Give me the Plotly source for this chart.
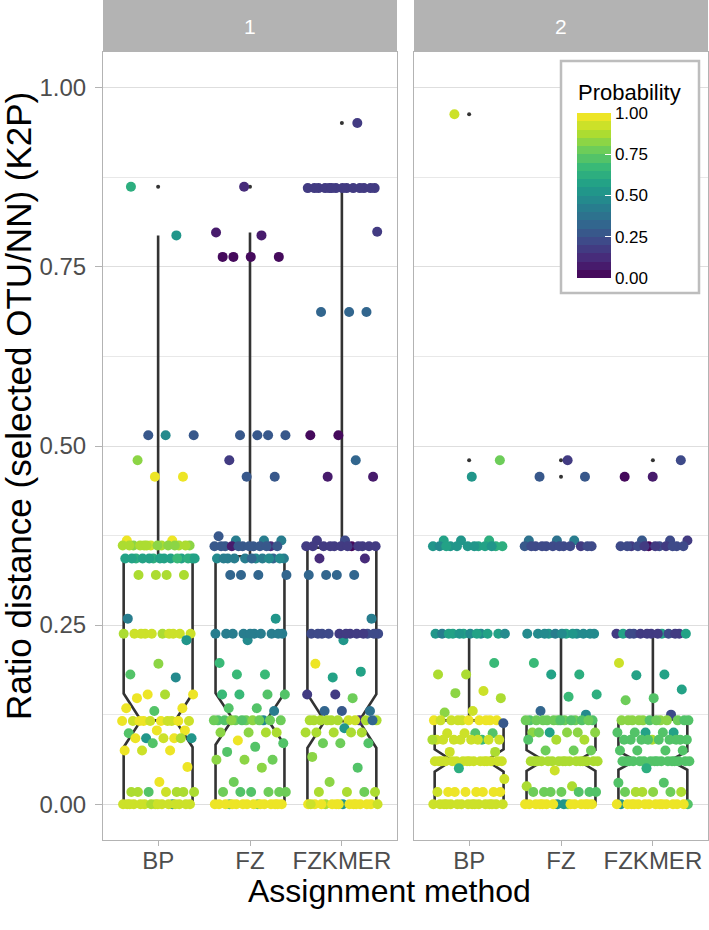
import plotly.graph_objects as go
from plotly.colors import sample_colorscale

methods = ["BP", "FZ", "FZKMER"]
method_pos = [1, 2, 3]
facet_labels = ["1", "2"]

# ---- boxplot summaries (order: BP, FZ, FZKMER) ----
f1_q1 = [0.0, 0.0, 0.0]
f1_median = [0.117, 0.119, 0.116]
f1_q3 = [0.342, 0.346, 0.358]
f1_upper = [0.794, 0.798, 0.860]
f1_notch = [0.0375, 0.036, 0.0375]
f1_outliers = [[0.862], [0.862], [0.951]]

f2_q1 = [0.0, 0.0, 0.0]
f2_median = [0.061, 0.061, 0.061]
f2_q3 = [0.117, 0.118, 0.118]
f2_upper = [0.238, 0.238, 0.238]
f2_notch = [0.0155, 0.0145, 0.013]
f2_outliers = [[0.963, 0.480, 0.457, 0.360], [0.480, 0.457, 0.360], [0.480, 0.457, 0.360]]

# ---- observations: ratio distance (y) and probability (p) ----
bp1_y = [0.862, 0.794, 0.515, 0.515, 0.515, 0.480, 0.457, 0.457,
         0.368, 0.368,
         0.361, 0.361, 0.361, 0.361, 0.361, 0.361, 0.361, 0.361, 0.361, 0.361, 0.361, 0.361, 0.361, 0.361,
         0.343, 0.343, 0.343, 0.343, 0.343, 0.343, 0.343, 0.343, 0.343, 0.343, 0.343, 0.343, 0.343, 0.343,
         0.320, 0.320, 0.320, 0.320,
         0.259,
         0.238, 0.238, 0.238, 0.238, 0.238, 0.238, 0.238, 0.238, 0.238, 0.238,
         0.229, 0.196, 0.181, 0.177,
         0.153, 0.153, 0.153, 0.148,
         0.134, 0.130, 0.134,
         0.116, 0.116, 0.116, 0.116, 0.116, 0.116, 0.116, 0.116, 0.116, 0.116,
         0.103, 0.103,
         0.099, 0.092, 0.092, 0.092, 0.092, 0.092, 0.092, 0.085,
         0.075, 0.075, 0.075,
         0.052, 0.031,
         0.017, 0.017, 0.017, 0.017, 0.017, 0.017, 0.017,
         0.0, 0.0, 0.0, 0.0, 0.0, 0.0, 0.0, 0.0, 0.0, 0.0, 0.0, 0.0, 0.0, 0.0, 0.0, 0.0]
bp1_p = [0.62, 0.52, 0.28, 0.28, 0.45, 0.82, 0.97, 0.97,
         1.0, 1.0,
         0.86, 0.84, 0.88, 0.82, 0.86, 0.90, 0.85, 0.80, 0.86, 0.88, 0.84, 0.86, 0.82, 0.87,
         0.58, 0.56, 0.60, 0.57, 0.62, 0.55, 0.58, 0.57, 0.60, 0.56, 0.58, 0.65, 0.57, 0.59,
         0.86, 0.88, 0.85, 0.87,
         0.42,
         0.90, 0.92, 0.90, 0.88, 0.90, 0.91, 0.90, 0.89, 0.92, 0.90,
         0.50, 0.82, 0.70, 0.46,
         0.97, 0.95, 0.85, 0.95,
         0.97, 0.70, 0.97,
         0.93, 0.97, 0.92, 0.95, 0.90, 0.97, 0.93, 0.95, 0.92, 0.96,
         0.97, 0.97,
         0.70, 0.97, 0.50, 0.50, 0.92, 0.97, 0.88, 0.70,
         0.97, 0.97, 0.90,
         0.97, 0.97,
         0.88, 0.88, 0.72, 0.88, 0.90, 0.86, 0.88,
         0.90, 0.92, 0.50, 0.90, 0.91, 0.90, 0.93, 0.90, 0.89, 0.92, 0.90, 0.91, 0.90, 0.92, 0.90, 0.91]

fz1_y = [0.862, 0.798, 0.794, 0.764, 0.764, 0.764, 0.764,
         0.515, 0.515, 0.515, 0.515, 0.480, 0.457, 0.457, 0.374,
         0.368, 0.368, 0.368,
         0.360, 0.360, 0.360, 0.360, 0.360, 0.360, 0.360, 0.360, 0.360, 0.360, 0.360, 0.360,
         0.343, 0.343, 0.343, 0.343, 0.343, 0.343, 0.343, 0.343, 0.343, 0.343, 0.343, 0.343,
         0.320, 0.320, 0.320, 0.320,
         0.259, 0.229, 0.197, 0.181, 0.181,
         0.238, 0.238, 0.238, 0.238, 0.238, 0.238, 0.238, 0.238, 0.238, 0.238,
         0.153, 0.153, 0.153, 0.153,
         0.134, 0.134, 0.130,
         0.117, 0.117, 0.117, 0.117, 0.117, 0.117, 0.117, 0.117, 0.117, 0.117, 0.117, 0.117,
         0.100, 0.100, 0.100, 0.100,
         0.089, 0.085, 0.080, 0.073, 0.062, 0.062, 0.062, 0.051, 0.031,
         0.017, 0.017, 0.017, 0.017, 0.017, 0.017,
         0.0, 0.0, 0.0, 0.0, 0.0, 0.0, 0.0, 0.0, 0.0, 0.0, 0.0, 0.0, 0.0, 0.0, 0.0, 0.0]
fz1_p = [0.12, 0.05, 0.05, 0.02, 0.02, 0.02, 0.02,
         0.28, 0.27, 0.28, 0.28, 0.15, 0.27, 0.27, 0.27,
         0.40, 0.42, 0.40,
         0.27, 0.25, 0.10, 0.27, 0.28, 0.26, 0.08, 0.27, 0.25, 0.28, 0.27, 0.26,
         0.44, 0.45, 0.43, 0.30, 0.44, 0.45, 0.44, 0.43, 0.45, 0.30, 0.44, 0.45,
         0.30, 0.30, 0.30, 0.30,
         0.52, 0.45, 0.68, 0.68, 0.68,
         0.42, 0.40, 0.44, 0.42, 0.41, 0.43, 0.42, 0.40, 0.42, 0.44,
         0.68, 0.70, 0.68, 0.72,
         0.70, 0.70, 0.40,
         0.75, 0.72, 0.45, 0.78, 0.75, 0.80, 0.74, 0.76, 0.72, 0.78, 0.75, 0.80,
         0.85, 0.82, 0.80, 0.85,
         0.95, 0.72, 0.70, 0.72, 0.75, 0.80, 0.80, 0.82, 0.75,
         0.75, 0.74, 0.76, 0.75, 0.73, 0.75,
         0.75, 0.72, 1.0, 0.98, 1.0, 1.0, 0.97, 1.0, 1.0, 0.98, 1.0, 1.0, 0.97, 1.0, 1.0, 1.0]

fk1_y = [0.951,
         0.860, 0.860, 0.860, 0.860, 0.860, 0.860, 0.860, 0.860, 0.860, 0.860, 0.860, 0.860, 0.860, 0.860,
         0.799, 0.687, 0.687, 0.687, 0.515, 0.515, 0.480, 0.457, 0.457,
         0.368, 0.368,
         0.360, 0.360, 0.360, 0.360, 0.360, 0.360, 0.360, 0.360, 0.360, 0.360, 0.360, 0.360,
         0.343, 0.343,
         0.320, 0.320, 0.320, 0.320,
         0.259, 0.229, 0.196, 0.185, 0.177,
         0.238, 0.238, 0.238, 0.238, 0.238, 0.238, 0.238, 0.238, 0.238, 0.238, 0.238, 0.238,
         0.153, 0.153, 0.148, 0.130, 0.130, 0.130,
         0.117, 0.117, 0.117, 0.117, 0.117, 0.117, 0.117, 0.117, 0.117, 0.117, 0.117, 0.117,
         0.106, 0.100, 0.100, 0.100, 0.100, 0.100,
         0.085, 0.085, 0.085, 0.066, 0.051, 0.031,
         0.017, 0.017, 0.017, 0.017,
         0.0, 0.0, 0.0, 0.0, 0.0, 0.0, 0.0, 0.0, 0.0, 0.0, 0.0, 0.0, 0.0, 0.0, 0.0, 0.0]
fk1_p = [0.15,
         0.17, 0.16, 0.18, 0.17, 0.15, 0.17, 0.19, 0.17, 0.16, 0.18, 0.17, 0.15, 0.17, 0.18,
         0.15, 0.30, 0.30, 0.30, 0.04, 0.04, 0.30, 0.05, 0.05,
         0.20, 0.18,
         0.17, 0.18, 0.16, 0.03, 0.17, 0.18, 0.17, 0.16, 0.18, 0.17, 0.18, 0.16,
         0.10, 0.10,
         0.30, 0.30, 0.30, 0.30,
         0.42, 0.52, 0.95, 0.58, 0.55,
         0.20, 0.18, 0.20, 0.21, 0.19, 0.20, 0.18, 0.20, 0.21, 0.19, 0.20, 0.18,
         0.15, 0.15, 0.75, 0.30, 0.35, 0.25,
         0.88, 0.10, 0.86, 0.88, 0.90, 0.87, 0.85, 0.88, 0.86, 0.90, 0.88, 0.30,
         0.50, 0.85, 0.88, 0.85, 0.87, 0.86,
         0.75, 0.72, 0.75, 0.80, 0.72, 0.80,
         0.85, 0.85, 0.86, 0.75,
         1.0, 0.97, 1.0, 0.88, 1.0, 0.50, 1.0, 0.98, 1.0, 0.90, 1.0, 1.0, 0.97, 1.0, 0.92, 1.0]

bp2_y = [0.963, 0.480, 0.457,
         0.368, 0.368, 0.368,
         0.360, 0.360, 0.360, 0.360, 0.360, 0.360, 0.360, 0.360, 0.360, 0.360, 0.360, 0.360,
         0.238, 0.238, 0.238, 0.238, 0.238, 0.238, 0.238, 0.238, 0.238, 0.238, 0.238, 0.238,
         0.197, 0.181, 0.181, 0.158, 0.155, 0.148, 0.130, 0.128,
         0.117, 0.117, 0.117, 0.117, 0.117, 0.117, 0.117, 0.117, 0.117, 0.117,
         0.113, 0.099, 0.099, 0.099, 0.099,
         0.090, 0.090, 0.090, 0.090, 0.090, 0.090, 0.090, 0.090, 0.090, 0.090,
         0.073, 0.073,
         0.060, 0.060, 0.060, 0.060, 0.060, 0.060, 0.060, 0.060, 0.060, 0.060, 0.060, 0.060, 0.060, 0.060, 0.060, 0.060,
         0.050, 0.035,
         0.017, 0.017, 0.017, 0.017, 0.017, 0.017, 0.017, 0.017,
         0.0, 0.0, 0.0, 0.0, 0.0, 0.0, 0.0, 0.0, 0.0, 0.0, 0.0, 0.0, 0.0, 0.0, 0.0, 0.0]
bp2_p = [0.90, 0.75, 0.50,
         0.55, 0.60, 0.52,
         0.52, 0.55, 0.50, 0.60, 0.52, 0.48, 0.55, 0.52, 0.62, 0.50, 0.55, 0.52,
         0.55, 0.50, 0.45, 0.55, 0.58, 0.45, 0.42, 0.55, 0.50, 0.45, 0.55, 0.58,
         0.68, 0.85, 0.88, 0.90, 0.80, 0.85, 0.90, 0.80,
         0.95, 0.93, 0.96, 0.95, 0.92, 0.95, 0.96, 0.93, 0.95, 0.94,
         0.25, 0.70, 0.92, 0.70, 0.92,
         0.92, 0.65, 0.90, 0.92, 0.93, 0.92, 0.90, 0.92, 0.88, 0.92,
         0.90, 0.85,
         0.92, 0.90, 0.93, 0.92, 0.91, 0.92, 0.90, 0.93, 0.92, 0.91, 0.92, 0.90, 0.93, 0.92, 0.91, 0.92,
         0.60, 0.92,
         0.96, 0.97, 0.95, 0.96, 0.90, 0.96, 0.97, 0.96,
         0.92, 0.93, 0.92, 0.91, 0.92, 0.93, 0.92, 0.90, 0.92, 0.93, 0.92, 0.91, 0.92, 0.93, 0.92, 0.92]

fz2_y = [0.480, 0.457, 0.457,
         0.368, 0.368, 0.368,
         0.360, 0.360, 0.360, 0.360, 0.360, 0.360, 0.360, 0.360, 0.360, 0.360, 0.360, 0.360,
         0.238, 0.238, 0.238, 0.238, 0.238, 0.238, 0.238, 0.238, 0.238, 0.238, 0.238, 0.238,
         0.197, 0.181, 0.181, 0.153, 0.150, 0.130, 0.125,
         0.117, 0.117, 0.117, 0.117, 0.117, 0.117, 0.117, 0.117, 0.117, 0.117, 0.117, 0.117, 0.117, 0.117,
         0.100, 0.100, 0.100, 0.100, 0.100, 0.100,
         0.090, 0.090, 0.090, 0.075, 0.075, 0.075,
         0.060, 0.060, 0.060, 0.060, 0.060, 0.060, 0.060, 0.060, 0.060, 0.060, 0.060, 0.060, 0.060, 0.060, 0.060, 0.060,
         0.047, 0.025, 0.025,
         0.017, 0.017, 0.017, 0.017, 0.017, 0.017, 0.017,
         0.0, 0.0, 0.0, 0.0, 0.0, 0.0, 0.0, 0.0, 0.0, 0.0, 0.0, 0.0, 0.0, 0.0, 0.0, 0.0]
fz2_p = [0.15, 0.28, 0.28,
         0.38, 0.35, 0.40,
         0.22, 0.20, 0.24, 0.22, 0.18, 0.22, 0.25, 0.20, 0.22, 0.24, 0.20, 0.22,
         0.45, 0.50, 0.45, 0.55, 0.48, 0.45, 0.42, 0.45, 0.50, 0.45, 0.48, 0.45,
         0.65, 0.60, 0.55, 0.62, 0.65, 0.30, 0.45,
         0.75, 0.72, 0.78, 0.75, 0.74, 0.76, 0.75, 0.72, 0.78, 0.75, 0.74, 0.76, 0.75, 0.73,
         0.80, 0.80, 0.55, 0.82, 0.80, 0.78,
         0.85, 0.85, 0.72, 0.75, 0.75, 0.75,
         0.88, 0.87, 0.88, 0.86, 0.88, 0.87, 0.88, 0.89, 0.88, 0.87, 0.88, 0.86, 0.88, 0.87, 0.88, 0.88,
         0.90, 0.88, 0.85,
         0.75, 0.74, 0.76, 0.75, 0.73, 0.75, 0.74,
         0.75, 1.0, 0.98, 0.50, 1.0, 1.0, 0.97, 1.0, 0.50, 1.0, 0.98, 1.0, 1.0, 0.97, 1.0, 1.0]

fk2_y = [0.480, 0.457, 0.457,
         0.368, 0.368, 0.368,
         0.360, 0.360, 0.360, 0.360, 0.360, 0.360, 0.360, 0.360, 0.360, 0.360, 0.360, 0.360,
         0.238, 0.238, 0.238, 0.238, 0.238, 0.238, 0.238, 0.238, 0.238, 0.238, 0.238, 0.238, 0.238,
         0.197, 0.181, 0.180, 0.160, 0.148, 0.145, 0.125,
         0.117, 0.117, 0.117, 0.117, 0.117, 0.117, 0.117, 0.117, 0.117, 0.117, 0.117, 0.117,
         0.100, 0.100, 0.100, 0.100, 0.100,
         0.090, 0.090, 0.090, 0.090, 0.090, 0.090, 0.090, 0.090, 0.090, 0.090,
         0.075, 0.075, 0.075, 0.075,
         0.060, 0.060, 0.060, 0.060, 0.060, 0.060, 0.060, 0.060, 0.060, 0.060, 0.060, 0.060, 0.060, 0.060, 0.060, 0.060,
         0.050, 0.030, 0.030,
         0.017, 0.017, 0.017, 0.017, 0.017, 0.017,
         0.0, 0.0, 0.0, 0.0, 0.0, 0.0, 0.0, 0.0, 0.0, 0.0, 0.0, 0.0, 0.0, 0.0, 0.0, 0.0]
fk2_p = [0.22, 0.05, 0.03,
         0.20, 0.25, 0.18,
         0.20, 0.18, 0.22, 0.03, 0.20, 0.19, 0.21, 0.20, 0.18, 0.22, 0.20, 0.19,
         0.18, 0.58, 0.20, 0.18, 0.19, 0.58, 0.20, 0.18, 0.58, 0.19, 0.20, 0.18, 0.19,
         0.92, 0.55, 0.55, 0.55, 0.72, 0.75, 0.20,
         0.80, 0.70, 0.82, 0.80, 0.78, 0.70, 0.80, 0.82, 0.80, 0.70, 0.78, 0.80,
         0.55, 0.55, 0.70, 0.72, 0.70,
         0.72, 0.85, 0.72, 0.70, 0.72, 0.74, 0.72, 0.70, 0.72, 0.74,
         0.70, 0.70, 0.70, 0.70,
         0.72, 0.71, 0.72, 0.73, 0.72, 0.71, 0.72, 0.73, 0.72, 0.71, 0.72, 0.73, 0.72, 0.71, 0.72, 0.72,
         0.60, 0.70, 0.70,
         0.85, 0.85, 0.84, 0.75, 0.75, 0.85,
         0.70, 1.0, 0.98, 1.0, 1.0, 0.50, 1.0, 0.97, 1.0, 1.0, 0.98, 1.0, 1.0, 0.97, 1.0, 1.0]

facet_points = [
    [(bp1_y, bp1_p), (fz1_y, fz1_p), (fk1_y, fk1_p)],
    [(bp2_y, bp2_p), (fz2_y, fz2_p), (fk2_y, fk2_p)],
]
facet_stats = [
    (f1_q1, f1_median, f1_q3, f1_upper, f1_notch, f1_outliers),
    (f2_q1, f2_median, f2_q3, f2_upper, f2_notch, f2_outliers),
]

legend_ticks = [0, 0.25, 0.5, 0.75, 1.0]
legend_ticktext = ["0.00", "0.25", "0.50", "0.75", "1.00"]
y_ticks = [0, 0.25, 0.5, 0.75, 1.0]
y_ticktext = ["0.00", "0.25", "0.50", "0.75", "1.00"]

# ---- styling ----
FONT = "Liberation Sans"
BOX_LINE = "#333333"
GRID = "#DEDEDE"
BORDER = "#B3B3B3"
AXIS_TXT = "#4D4D4D"

nb = 20
band_cols = sample_colorscale("Viridis", [(i + 0.5) / nb for i in range(nb)])
banded = []
for i, c in enumerate(band_cols):
    banded.append([i / nb, c])
    banded.append([(i + 1) / nb, c])


def jitter_offsets(n, phase):
    # deterministic spread of points across +/-0.4 of a category (geom_jitter width)
    return [(((k * 0.6180339887) + phase) % 1.0 - 0.5) * 0.8 for k in range(n)]


W, H = 709, 930
ml, mr, mt, mb = 103, 1, 52, 90
pw = W - ml - mr
ph = H - mt - mb


def px_x(px):
    return (px - ml) / pw


def px_y(py):
    return (H - mb - py) / ph


fig = go.Figure()
axes = [("x", "y"), ("x2", "y2")]

for fi in range(2):
    xa, ya = axes[fi]
    q1, med, q3, up, notch, outs = facet_stats[fi]
    for mi in range(3):
        fig.add_trace(go.Box(
            x=[method_pos[mi]], q1=[q1[mi]], median=[med[mi]], q3=[q3[mi]],
            lowerfence=[q1[mi]], upperfence=[up[mi]], notchspan=[notch[mi]],
            notched=True, notchwidth=0.25, width=0.75, whiskerwidth=0,
            fillcolor="white", line=dict(color=BOX_LINE, width=2.6),
            boxpoints=False, orientation="v", showlegend=False, hoverinfo="skip",
            xaxis=xa, yaxis=ya,
        ))
        fig.add_trace(go.Scatter(
            x=[method_pos[mi]] * len(outs[mi]), y=outs[mi], mode="markers",
            marker=dict(color=BOX_LINE, size=4), showlegend=False, hoverinfo="skip",
            xaxis=xa, yaxis=ya,
        ))
    xs, ys, cs = [], [], []
    for mi in range(3):
        yv, pv = facet_points[fi][mi]
        offs = jitter_offsets(len(yv), 0.13 + 0.29 * mi + 0.17 * fi)
        xs += [method_pos[mi] + o for o in offs]
        ys += list(yv)
        cs += list(pv)
    fig.add_trace(go.Scatter(
        x=xs, y=ys, mode="markers", xaxis=xa, yaxis=ya, showlegend=False,
        marker=dict(
            size=10, color=cs, colorscale=banded, cmin=0, cmax=1,
            line=dict(width=0), showscale=(fi == 1),
            colorbar=dict(
                thickness=34, lenmode="pixels", len=165,
                x=px_x(577), xanchor="left", y=px_y(113), yanchor="top",
                xpad=0, ypad=0,
                tickvals=legend_ticks, ticktext=legend_ticktext,
                ticks="inside", ticklen=6, tickcolor="white", tickwidth=1,
                tickfont=dict(family=FONT, size=17, color="black"),
                outlinewidth=0, borderwidth=0, bgcolor="rgba(0,0,0,0)",
            ),
        ),
    ))

xcommon = dict(range=[0.4, 3.6], tickvals=method_pos, ticktext=methods,
               showgrid=False, zeroline=False, showline=True, mirror=True,
               linecolor=BORDER, linewidth=1, ticks="outside", ticklen=5,
               ticklabelstandoff=-6,
               tickcolor=BORDER, tickfont=dict(family=FONT, size=24, color=AXIS_TXT))
ycommon = dict(range=[-0.05, 1.05], tickvals=y_ticks, ticktext=y_ticktext,
               showgrid=True, gridcolor=GRID, gridwidth=1, zeroline=False,
               showline=True, mirror=True, linecolor=BORDER, linewidth=1,
               minor=dict(tickvals=[0.125, 0.375, 0.625, 0.875], showgrid=True,
                          gridcolor="#E8E8E8", gridwidth=0.6, ticks=""))

fig.update_layout(
    width=W, height=H,
    margin=dict(l=ml, r=mr, t=mt, b=mb),
    paper_bgcolor="white", plot_bgcolor="white",
    font=dict(family=FONT),
    xaxis=dict(domain=[0, 294 / pw], **xcommon),
    xaxis2=dict(domain=[311 / pw, 1], anchor="y2", **xcommon),
    yaxis=dict(anchor="x", ticks="outside", ticklen=7, tickcolor=BORDER,
               ticklabelstandoff=4,
               tickfont=dict(family=FONT, size=24, color=AXIS_TXT), **ycommon),
    yaxis2=dict(anchor="x2", matches="y", showticklabels=False, ticks="", **ycommon),
    showlegend=False,
)

# facet strips
strip_top = 1 + mt / ph
for fi, xr in enumerate(["x domain", "x2 domain"]):
    fig.add_shape(type="rect", xref=xr, yref="paper", x0=0, x1=1, y0=1, y1=strip_top,
                  fillcolor=BORDER, line=dict(width=0), layer="above")
    fig.add_annotation(xref=xr, yref="paper", x=0.5, y=(1 + strip_top) / 2,
                       text=facet_labels[fi], showarrow=False,
                       font=dict(family=FONT, size=21, color="white"),
                       xanchor="center", yanchor="middle")

# legend frame and title
fig.add_shape(type="rect", xref="paper", yref="paper",
              x0=px_x(561), x1=px_x(699), y0=px_y(293), y1=px_y(61),
              fillcolor="white", line=dict(color="#BDBDBD", width=2.5), layer="above")
fig.add_annotation(xref="paper", yref="paper", x=px_x(629), y=px_y(92),
                   text="Probability", showarrow=False, xanchor="center", yanchor="middle",
                   font=dict(family=FONT, size=22, color="black"))

# axis titles
fig.add_annotation(xref="paper", yref="paper", x=px_x(389), y=px_y(891),
                   text="Assignment method", showarrow=False, xanchor="center", yanchor="middle",
                   font=dict(family=FONT, size=32, color="black"))
fig.add_annotation(xref="paper", yref="paper", x=px_x(19), y=px_y(406),
                   text="Ratio distance (selected OTU/NN) (K2P)", showarrow=False, textangle=-90,
                   xanchor="center", yanchor="middle",
                   font=dict(family=FONT, size=35, color="black"))

fig.write_html("out.html", post_script="document.body.style.margin='0px';",
               config={"displayModeBar": False})
